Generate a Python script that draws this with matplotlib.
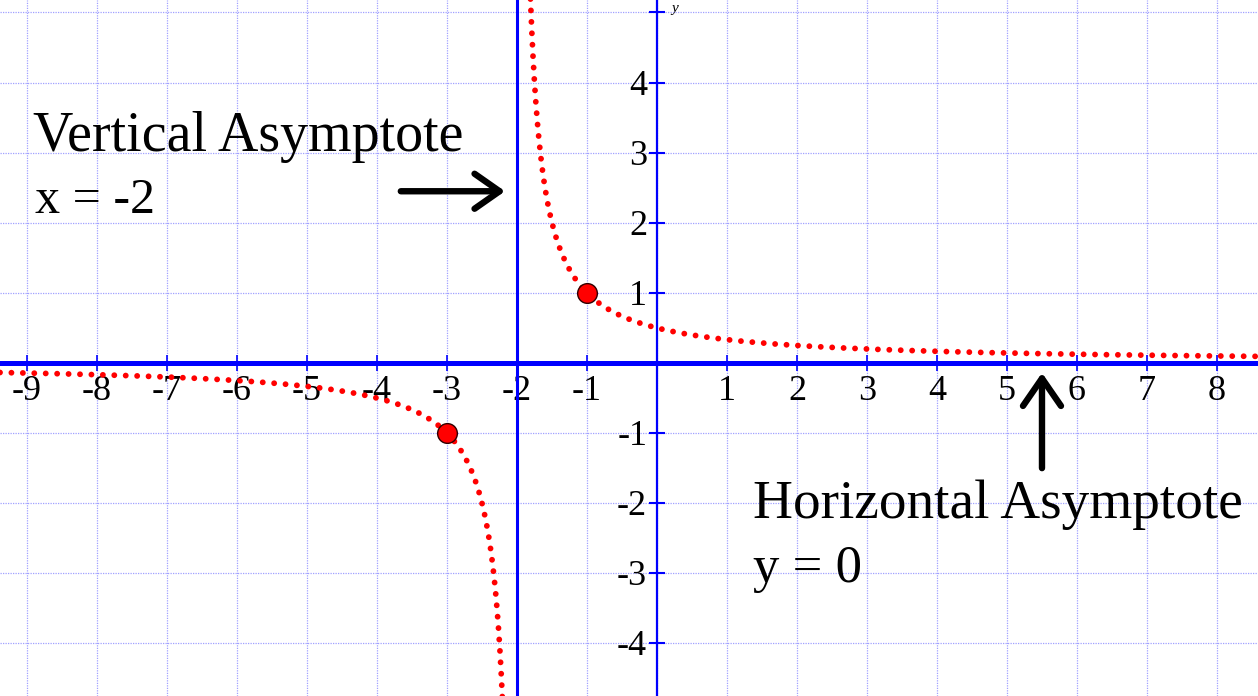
import numpy as np
import matplotlib
matplotlib.use("Agg")
import matplotlib.pyplot as plt
from matplotlib.patches import FancyArrowPatch

# graph of y = 1 / (x - a) with vertical asymptote x = a, horizontal y = 0
v_asym = -2
h_asym = 0
marked_x = [-3, -1]
marked_y = [-1, 1]

x_ticks = [-9, -8, -7, -6, -5, -4, -3, -2, -1, 1, 2, 3, 4, 5, 6, 7, 8]
y_ticks = [-4, -3, -2, -1, 1, 2, 3, 4]
x_labels = ["-9", "-8", "-7", "-6", "-5", "-4", "-3", "-2", "-1",
            "1", "2", "3", "4", "5", "6", "7", "8"]
y_labels = ["-4", "-3", "-2", "-1", "1", "2", "3", "4"]

xmin, xmax = -9.386, 8.586
ymin, ymax = -4.75, 5.178

serif = ["Liberation Serif", "DejaVu Serif"]
blue = "#0000ff"

fig = plt.figure(figsize=(12.58, 6.96), dpi=100)
ax = fig.add_axes([0, 0, 1, 1])
ax.set_xlim(xmin, xmax)
ax.set_ylim(ymin, ymax)
ax.axis("off")

# grid
for gx in range(-9, 9):
    ax.axvline(gx, color="#a0a0ff", lw=0.9, ls=(0, (1, 1)), zorder=1)
for gy in range(-4, 6):
    ax.axhline(gy, color="#a0a0ff", lw=0.9, ls=(0, (1, 1)), zorder=1)

# tick labels
for t, lab in zip(x_ticks, x_labels):
    ax.text(t, -0.53, lab, ha="center", va="baseline", fontsize=26,
            family=serif, zorder=2)
for t, lab in zip(y_ticks, y_labels):
    ax.text(-0.14, t - 0.17, lab, ha="right", va="baseline", fontsize=26,
            family=serif, zorder=2)

# axes and asymptote
ax.axhline(h_asym, color=blue, lw=3.6, zorder=3)
ax.axvline(0, color=blue, lw=1.6, zorder=3)
ax.axvline(v_asym, color=blue, lw=2.2, zorder=3)
ax.plot(x_ticks, np.zeros(len(x_ticks)), ls="none", marker="|", ms=11,
        mew=1.2, color=blue, zorder=3)
ax.plot(np.zeros(len(y_ticks) + 1), y_ticks + [5], ls="none", marker="_",
        ms=11, mew=1.5, color=blue, zorder=3)
ax.text(0.2, 5.06, "y", fontsize=11, style="italic", family=serif,
        ha="left", va="center")

# curve
xr = np.linspace(v_asym + 1 / 5.4, xmax + 0.2, 3000)
xl = np.linspace(xmin - 0.2, v_asym - 1 / 5.0, 3000)
for xs in (xl, xr):
    ax.plot(xs, 1 / (xs - v_asym), color="red", lw=4.2,
            ls=(0, (0.01, 1.95)), dash_capstyle="round", zorder=4)

ax.plot(marked_x, marked_y, ls="none", marker="o", ms=14.2,
        mfc="red", mec="#300000", mew=1.0, zorder=5)

# annotations
ax.text(-8.91, 3.02, "Vertical Asymptote", fontsize=40.3, family=serif,
        va="baseline", ha="left", zorder=6)
ax.text(-8.89, 2.14, "x = -2", fontsize=36, family=serif,
        va="baseline", ha="left", zorder=6)
ax.text(1.37, -2.21, "Horizontal Asymptote", fontsize=39.8, family=serif,
        va="baseline", ha="left", zorder=6)
ax.text(1.37, -3.12, "y = 0", fontsize=38, family=serif,
        va="baseline", ha="left", zorder=6)

ar1 = FancyArrowPatch((-3.66, 2.45), (-2.17, 2.45),
                      arrowstyle="->,head_length=0.5,head_width=0.35",
                      mutation_scale=36, lw=4.6, color="black",
                      shrinkA=0, shrinkB=0, zorder=6)
ar2 = FancyArrowPatch((5.5, -1.5), (5.5, -0.14),
                      arrowstyle="->,head_length=0.55,head_width=0.38",
                      mutation_scale=36, lw=4.6, color="black",
                      shrinkA=0, shrinkB=0, zorder=6)
ax.add_patch(ar1)
ax.add_patch(ar2)

fig.savefig("out.png", dpi=100)
